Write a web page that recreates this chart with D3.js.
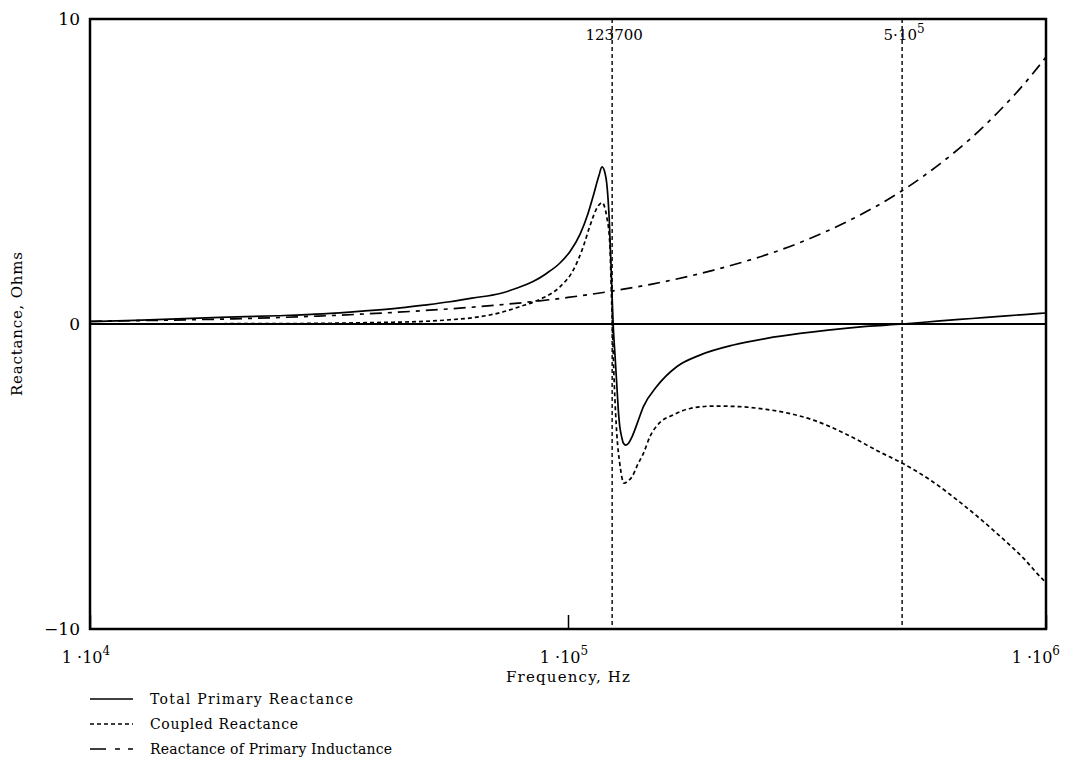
<!DOCTYPE html>
<html><head><meta charset="utf-8">
<script src="https://cdn.jsdelivr.net/npm/d3@7"></script>
<style>body{margin:0;background:#fff}svg{display:block}text{font-family:"DejaVu Serif","Liberation Serif",serif;fill:#000}</style>
</head><body><svg id="c" width="1068" height="763"></svg>
<script>
// Frequencies (Hz) and reactances (Ohms)
const totalFreq = [10000,12400,18700,24600,30700,37000,44600,50000,56600,63000,72100,78000,84500,90000,96200,101000,106000,110000,112800,116000,117800,119500,120500,122000,123400,124300,125500,126500,127400,128300,129500,130500,132200,134000,136200,140000,143800,153300,168800,188800,221700,260400,305800,350000,420000,500000,600000,700000,800000,900000,1000000];
const totalX    = [0.08,0.12,0.22,0.27,0.33,0.42,0.53,0.62,0.73,0.85,1.0,1.17,1.39,1.65,2.0,2.38,2.95,3.6,4.17,4.85,5.15,4.95,4.62,3.41,1.34,0.0,-1.1,-2.0,-2.8,-3.35,-3.7,-3.9,-3.97,-3.9,-3.69,-3.2,-2.71,-2.05,-1.40,-1.02,-0.69,-0.47,-0.31,-0.2,-0.08,0.0,0.1,0.18,0.25,0.31,0.36];

const coupledFreq = [10000,20000,30000,40000,46700,55700,65500,72100,79300,87400,96200,102600,107600,111000,115400,117800,120500,122300,123000,123800,125000,126500,128300,131000,133500,136200,140000,143800,148400,155000,166100,180000,201400,229000,260000,290000,326000,382800,449400,500000,571900,671400,788600,900000,987000,1000000];
const coupledX    = [0.0,0.01,0.02,0.05,0.07,0.13,0.24,0.37,0.57,0.81,1.22,1.77,2.53,3.19,3.85,3.98,3.52,2.65,1.5,0.0,-2.0,-3.6,-4.57,-5.22,-5.15,-5.0,-4.6,-4.24,-3.69,-3.26,-2.98,-2.77,-2.69,-2.71,-2.80,-2.93,-3.15,-3.62,-4.2,-4.56,-5.11,-5.93,-6.86,-7.7,-8.39,-8.47];

const indFreq = [10000,15000,20000,30000,50000,70000,100000,123700,150000,200000,300000,400000,500000,600000,700000,800000,900000,1000000];
const indX    = [0.09,0.13,0.17,0.26,0.44,0.61,0.87,1.08,1.31,1.75,2.62,3.5,4.37,5.25,6.12,7.0,7.87,8.75];

const markerFreqs = [123700, 500000];
const markerLabels = ["123700", "5·10|5"];
const yTicks = [-10, 0, 10];
const xTickValues = [10000, 100000, 1000000];
const xTickExp = ["4", "5", "6"];
const legendLabels = ["Total Primary Reactance", "Coupled Reactance", "Reactance of Primary Inductance"];

const svg = d3.select("#c");
const L = 90, R = 1046, T = 19, B = 629;
const x = d3.scaleLog().domain([1e4, 1e6]).range([L, R]);
const y = d3.scaleLinear().domain([-10, 10]).range([B, T]);

svg.append("defs").append("clipPath").attr("id", "clip")
  .append("rect").attr("x", L).attr("y", T).attr("width", R - L).attr("height", B - T);

// bottom axis ticks (inward)
const xa = svg.append("g").attr("transform", `translate(0,${B})`)
  .call(d3.axisBottom(x).tickValues(xTickValues).tickSize(-14).tickFormat(""));
xa.select(".domain").remove();
xa.selectAll("line").attr("stroke", "#000").attr("stroke-width", 1.5);

// x tick labels with superscripts
xTickValues.forEach((v, i) => {
  const t = svg.append("text").attr("y", 663).attr("font-size", 16)
    .attr("text-anchor", i === 2 ? "end" : "middle")
    .attr("x", i === 2 ? 1060 : x(v) - 4);
  t.append("tspan").text("1 ·10");
  t.append("tspan").attr("dy", -8).attr("font-size", 12).text(xTickExp[i]);
});

// y tick labels
yTicks.forEach(v => {
  svg.append("text").attr("x", 80).attr("y", y(v) + 6).attr("text-anchor", "end")
    .attr("font-size", 17).attr("font-family", "Liberation Sans, Arial, sans-serif").text(v === -10 ? "\u221210" : String(v));
});

// axis titles
svg.append("text").attr("x", 568).attr("y", 682).attr("text-anchor", "middle")
  .attr("font-size", 15).attr("textLength", 124).text("Frequency, Hz");
svg.append("text").attr("transform", "translate(22,324) rotate(-90)").attr("text-anchor", "middle")
  .attr("font-size", 15).attr("textLength", 144).text("Reactance, Ohms");

const g = svg.append("g").attr("clip-path", "url(#clip)");

// zero line
g.append("line").attr("x1", L).attr("x2", R).attr("y1", y(0)).attr("y2", y(0))
  .attr("stroke", "#000").attr("stroke-width", 2.2);

// vertical markers
markerFreqs.forEach(f => {
  g.append("line").attr("x1", x(f)).attr("x2", x(f)).attr("y1", T).attr("y2", B)
    .attr("stroke", "#000").attr("stroke-width", 1.4).attr("stroke-dasharray", "4,3");
});
markerLabels.forEach((lab, i) => {
  const parts = lab.split("|");
  const t = svg.append("text").attr("x", x(markerFreqs[i]) + 2).attr("y", 40)
    .attr("text-anchor", "middle").attr("font-size", 15);
  t.append("tspan").text(parts[0]);
  if (parts[1]) t.append("tspan").attr("dy", -7).attr("font-size", 12).text(parts[1]);
});

const line = d3.line().x(d => x(d[0])).y(d => y(d[1])).curve(d3.curveMonotoneX);
const series = [
  {f: totalFreq, v: totalX, dash: null, w: 1.7},
  {f: coupledFreq, v: coupledX, dash: "4,3", w: 1.7},
  {f: indFreq, v: indX, dash: "12,6,4,6", w: 1.7}
];
series.forEach(s => {
  g.append("path").datum(d3.zip(s.f, s.v)).attr("d", line)
    .attr("fill", "none").attr("stroke", "#000").attr("stroke-width", s.w)
    .attr("stroke-dasharray", s.dash);
});

// frame
svg.append("rect").attr("x", L).attr("y", T).attr("width", R - L).attr("height", B - T)
  .attr("fill", "none").attr("stroke", "#000").attr("stroke-width", 2.5);

// legend
const legW = [203, 148, 242];
const legDash = [null, "4,3", "16,9,5,8,5,9"];
legendLabels.forEach((lab, i) => {
  const ly = 699 + i * 25;
  svg.append("line").attr("x1", 90).attr("x2", 133).attr("y1", ly).attr("y2", ly)
    .attr("stroke", "#000").attr("stroke-width", 1.5).attr("stroke-dasharray", legDash[i]);
  svg.append("text").attr("x", 150).attr("y", ly + 5).attr("font-size", 14)
    .attr("textLength", legW[i]).text(lab);
});
</script></body></html>
